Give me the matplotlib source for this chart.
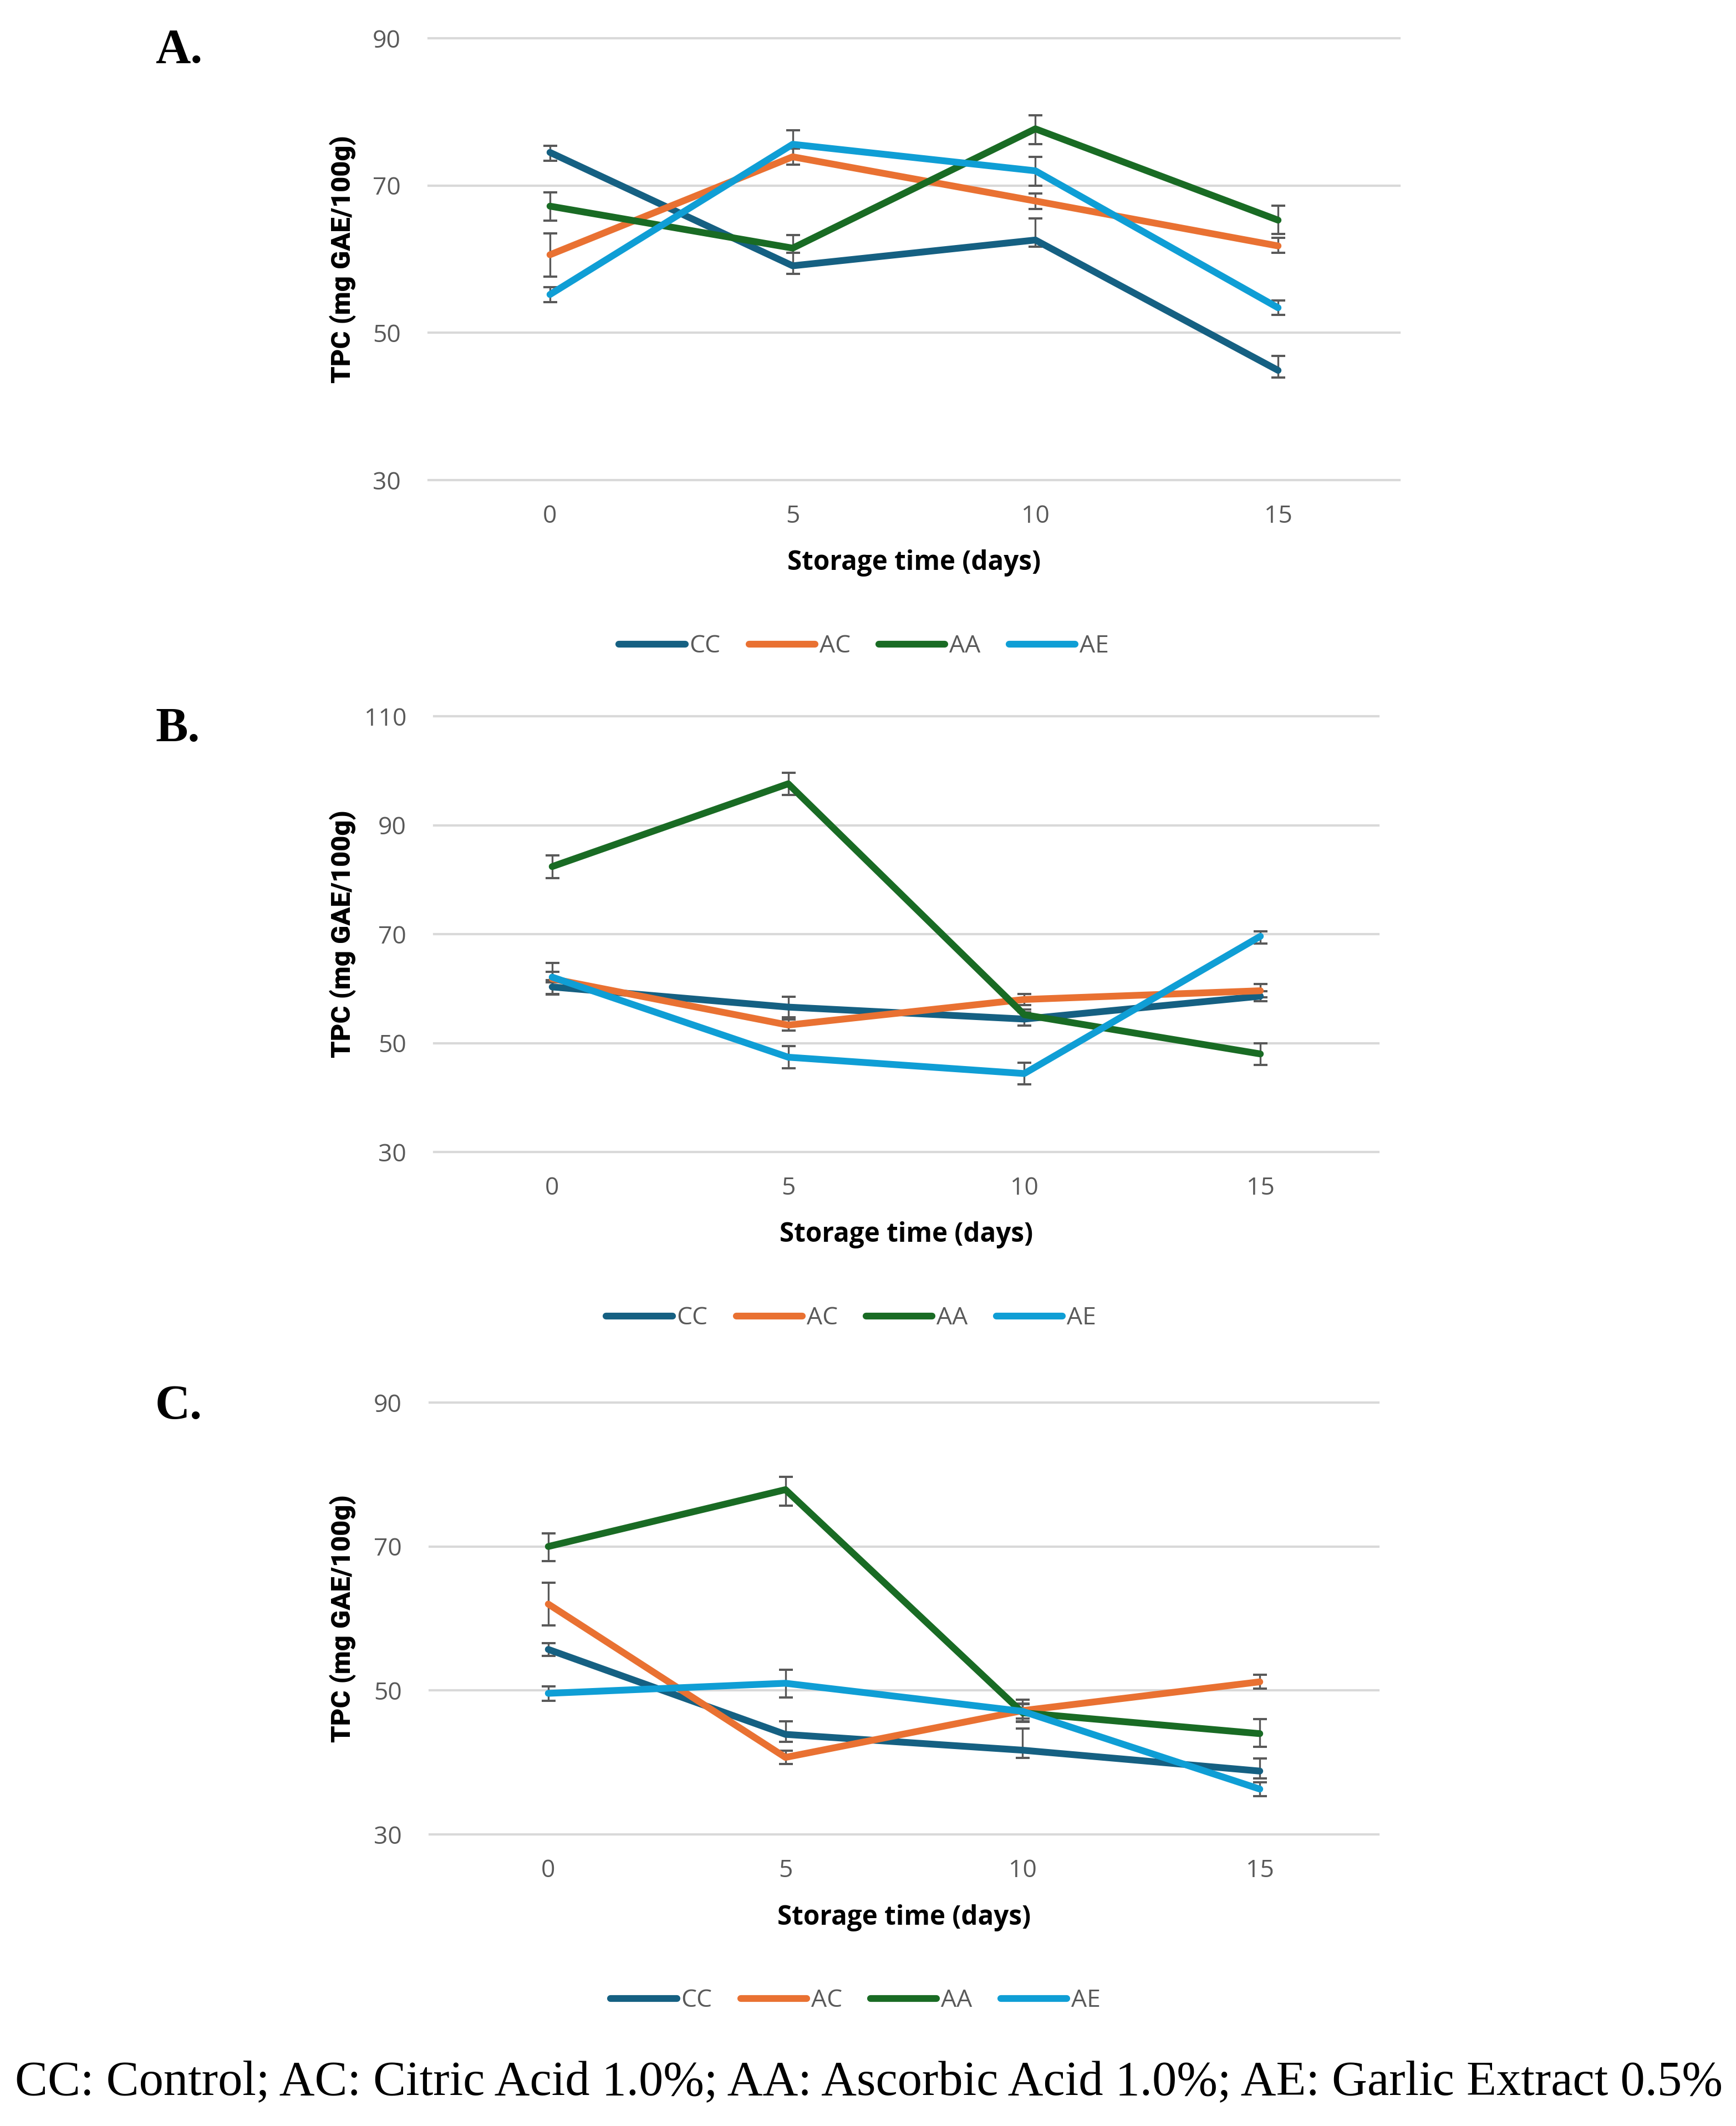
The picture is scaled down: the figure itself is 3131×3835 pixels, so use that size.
import matplotlib.pyplot as plt

W, H = 3131, 3835

days = ['0', '5', '10', '15']
groups = ['CC', 'AC', 'AA', 'AE']
colors = ['#156082', '#E97132', '#196B24', '#0F9ED5']

# panel A values and error bars (lower, upper)
a_vals = {
    'CC': [74.5, 59.1, 62.6, 44.9],
    'AC': [60.6, 73.9, 67.9, 61.8],
    'AA': [67.2, 61.5, 77.7, 65.3],
    'AE': [55.2, 75.6, 72.0, 53.4],
}
a_lo = {'CC': [1.1, 1.1, 0.9, 1.0], 'AC': [3.0, 1.1, 1.1, 0.9],
        'AA': [2.0, 0.6, 2.1, 1.9], 'AE': [1.0, 1.9, 2.0, 1.0]}
a_hi = {'CC': [0.9, 1.8, 2.9, 2.0], 'AC': [2.9, 1.1, 1.0, 1.1],
        'AA': [1.9, 1.8, 1.8, 2.0], 'AE': [1.0, 1.9, 1.9, 1.0]}

# panel B
b_vals = {
    'CC': [60.3, 56.6, 54.4, 58.6],
    'AC': [61.8, 53.3, 58.0, 59.6],
    'AA': [82.4, 97.6, 55.2, 48.0],
    'AE': [62.1, 47.4, 44.4, 69.6],
}
b_lo = {'CC': [1.3, 1.9, 1.2, 0.9], 'AC': [2.9, 1.0, 1.0, 1.2],
        'AA': [2.1, 2.1, 1.0, 2.0], 'AE': [1.0, 2.0, 2.0, 1.3]}
b_hi = {'CC': [1.3, 1.9, 1.2, 0.9], 'AC': [2.9, 1.0, 1.0, 1.2],
        'AA': [2.1, 2.0, 1.0, 2.0], 'AE': [1.0, 2.0, 2.0, 0.9]}

# panel C
c_vals = {
    'CC': [55.7, 43.9, 41.7, 38.8],
    'AC': [62.0, 40.7, 47.2, 51.2],
    'AA': [70.0, 77.9, 46.9, 44.0],
    'AE': [49.6, 51.0, 47.1, 36.3],
}
c_lo = {'CC': [0.9, 1.0, 1.1, 1.0], 'AC': [3.0, 0.9, 1.5, 0.95],
        'AA': [2.0, 2.2, 1.3, 1.8], 'AE': [1.0, 2.0, 1.0, 0.95]}
c_hi = {'CC': [0.9, 1.85, 3.0, 1.75], 'AC': [3.0, 0.9, 1.5, 0.95],
        'AA': [1.8, 1.8, 1.3, 2.05], 'AE': [1.0, 1.9, 1.0, 0.95]}

caption = 'CC: Control; AC: Citric Acid 1.0%; AA: Ascorbic Acid 1.0%; AE: Garlic Extract 0.5%'

# layout in pixels: left, top, right, bottom of plot area
panels = [
    ('A.', a_vals, a_lo, a_hi, (30, 90), (773, 69, 2524, 866), 91, 1558),
    ('B.', b_vals, b_lo, b_hi, (30, 110), (783, 1292, 2486, 2078), 1315, 1535),
    ('C.', c_vals, c_lo, c_hi, (30, 90), (775, 2530, 2486, 3309), 2538, 1543),
]

tick_col = '#595959'
grid_col = '#D9D9D9'

fig = plt.figure(figsize=(W / 100, H / 100), dpi=100)
fx = lambda px: px / W
fy = lambda py: 1 - py / H

fit_x, fit_y = [], []
for letter, vals, lo, hi, ylim, box, letter_y, leg_x in panels:
    l, t, r, b = box
    ax = fig.add_axes([fx(l), fy(b), (r - l) / W, (b - t) / H])
    x = list(range(len(days)))
    for g, c in zip(groups, colors):
        ax.errorbar(x, vals[g], yerr=[lo[g], hi[g]], fmt='none', ecolor=tick_col,
                    elinewidth=2.4, capsize=9, capthick=2.9, zorder=2)
    for g, c in zip(groups, colors):
        ax.plot(x, vals[g], color=c, lw=8.8, solid_capstyle='round',
                solid_joinstyle='round', label=g, zorder=3)
    ax.set_xlim(-0.5, len(days) - 0.5)
    ax.set_ylim(*ylim)
    ax.set_yticks(range(ylim[0], ylim[1] + 1, 20))
    ax.set_xticks(x)
    ax.set_xticklabels(days)
    ax.tick_params(length=0, labelsize=32, labelcolor=tick_col)
    ax.tick_params(axis='y', pad=36)
    ax.tick_params(axis='x', pad=31)
    for lab in ax.get_xticklabels() + ax.get_yticklabels():
        lab.set_family('Open Sans')
    ax.yaxis.grid(True, color=grid_col, lw=3)
    for gl in ax.get_ygridlines():
        gl.set_clip_on(False)
    ax.set_axisbelow(True)
    for s in ax.spines.values():
        s.set_visible(False)

    fig.text(fx(280), fy(letter_y), letter, fontsize=63, fontweight='bold',
             family='Liberation Serif', ha='left', va='center')
    xl = fig.text(fx((l + r) / 2), fy(b + 150), 'Storage time (days)', fontsize=31,
                  fontweight='bold', family='Open Sans', ha='center', va='center')
    yl = fig.text(fx(619), fy((t + b) / 2), 'TPC (mg GAE/100g)', fontsize=30,
                  fontweight=900, family=['Roboto', 'DejaVu Sans'], rotation=90,
                  ha='center', va='center')
    fit_x.append(xl)
    fit_y.append(yl)

    h, labs = ax.get_legend_handles_labels()
    fig.legend(h, labs, loc='center', bbox_to_anchor=(fx(leg_x), fy(b + 300)),
               ncol=4, frameon=False, labelcolor=tick_col,
               handlelength=2.68, handletextpad=0.18, columnspacing=1.15,
               prop={'family': 'Open Sans', 'size': 32})

cap = fig.text(fx(1567), fy(3757), caption, fontsize=40, family='Liberation Serif',
               ha='center', va='center')

# scale a few texts to the measured extents
fig.canvas.draw()
rend = fig.canvas.get_renderer()
for t in fit_x:
    t.set_fontsize(t.get_fontsize() * 457 / t.get_window_extent(rend).width)
for t in fit_y:
    t.set_fontsize(t.get_fontsize() * 447 / t.get_window_extent(rend).height)
cap.set_fontsize(cap.get_fontsize() * 3075 / cap.get_window_extent(rend).width)

fig.savefig('out.png', dpi=100)
